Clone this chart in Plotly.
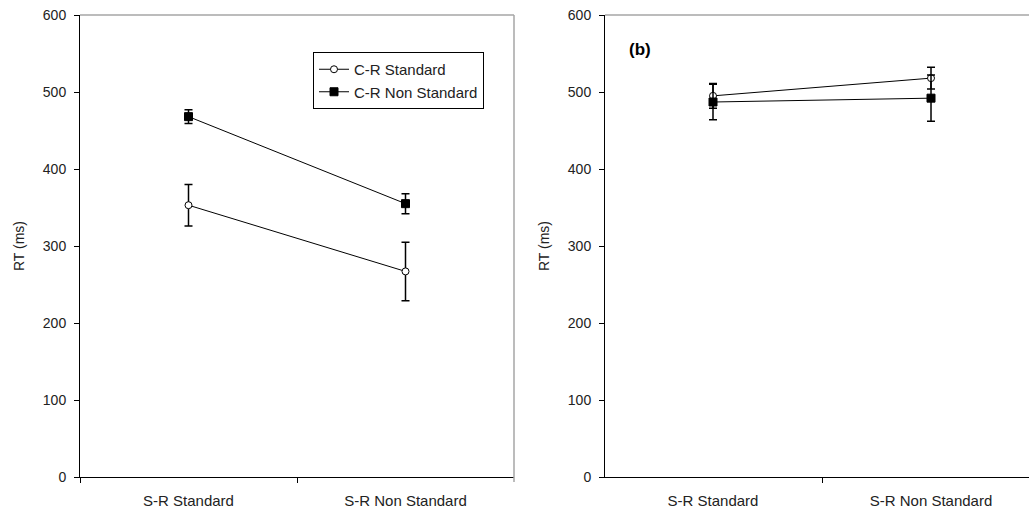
import plotly.graph_objects as go

# Response-time means (ms) and standard errors for each condition
categories = ["S-R Standard", "S-R Non Standard"]

# Panel (a)
a_std_mean = [353, 267]
a_std_err = [27, 38]
a_non_mean = [468, 355]
a_non_err = [9, 13]

# Panel (b)
b_std_mean = [495, 518]
b_std_err = [16, 14]
b_non_mean = [487, 492]
b_non_err = [23, 30]

y_ticks = [0, 100, 200, 300, 400, 500, 600]

FONT = "Liberation Sans, Arial, sans-serif"
INK = "#000000"
TXT = "#222222"

W, H = 1029, 513
left_dom = [80 / W, 514 / W]
right_dom = [605 / W, 1.0]
y_dom = [(H - 477) / H, (H - 15) / H]

fig = go.Figure()


def add_series(name, means, errs, xa, ya, symbol, fill, show):
    fig.add_trace(go.Scatter(
        x=categories, y=means, name=name, xaxis=xa, yaxis=ya,
        mode="lines+markers", showlegend=show, legendgroup=name,
        line=dict(color=INK, width=1),
        marker=dict(symbol=symbol, size=7 if symbol == "circle" else 8,
                    color=fill, line=dict(color=INK, width=1)),
        error_y=dict(type="data", array=errs, visible=True,
                     color=INK, thickness=1.5, width=4),
    ))


add_series("C-R Standard", a_std_mean, a_std_err, "x", "y", "circle", "white", True)
add_series("C-R Non Standard", a_non_mean, a_non_err, "x", "y", "square", INK, True)
add_series("C-R Standard", b_std_mean, b_std_err, "x2", "y2", "circle", "white", False)
add_series("C-R Non Standard", b_non_mean, b_non_err, "x2", "y2", "square", INK, False)

xcommon = dict(
    type="category", categoryorder="array", categoryarray=categories,
    showline=True, linecolor=INK, linewidth=1,
    ticks="outside", tickson="boundaries", ticklen=5, tickcolor=INK,
    showgrid=False, zeroline=False, automargin=False,
    tickfont=dict(family=FONT, size=15, color=TXT),
    ticklabelstandoff=10,
)
ycommon = dict(
    range=[0, 600], tickvals=y_ticks,
    showline=True, linecolor=INK, linewidth=1,
    ticks="outside", ticklen=5, tickcolor=INK,
    showgrid=False, zeroline=False, automargin=False,
    tickfont=dict(family=FONT, size=14, color=TXT),
    ticklabelstandoff=5,
    title=dict(text="RT (ms)", font=dict(family=FONT, size=14, color=TXT), standoff=14),
)

fig.update_layout(
    width=W, height=H,
    margin=dict(l=0, r=0, t=0, b=0, autoexpand=False),
    paper_bgcolor="white", plot_bgcolor="white",
    xaxis=dict(domain=left_dom, range=[-0.5, 1.5], anchor="y", **xcommon),
    yaxis=dict(domain=y_dom, anchor="x", **ycommon),
    xaxis2=dict(domain=right_dom, range=[-0.4954, 1.4495], anchor="y2", **xcommon),
    yaxis2=dict(domain=y_dom, anchor="x2", **ycommon),
    legend=dict(
        x=313 / W, y=(H - 52) / H, xanchor="left", yanchor="top",
        bordercolor=INK, borderwidth=1, bgcolor="white",
        font=dict(family=FONT, size=15, color=TXT),
        itemwidth=30, tracegroupgap=0,
    ),
    showlegend=True,
    annotations=[dict(
        text="<b>(b)</b>", xref="paper", yref="paper",
        x=627 / W, y=(H - 49) / H, xanchor="left", yanchor="middle",
        showarrow=False, font=dict(family=FONT, size=17, color=INK),
    )],
    shapes=[
        # light frame along the top and right of panel (a), top of panel (b)
        dict(type="line", xref="paper", yref="paper",
             x0=left_dom[0], x1=left_dom[1], y0=y_dom[1], y1=y_dom[1],
             line=dict(color="#a6a6a6", width=1.5)),
        dict(type="line", xref="paper", yref="paper",
             x0=left_dom[1], x1=left_dom[1], y0=y_dom[0] - 5 / H, y1=y_dom[1],
             line=dict(color="#a6a6a6", width=1.5)),
        dict(type="line", xref="paper", yref="paper",
             x0=right_dom[0], x1=right_dom[1], y0=y_dom[1], y1=y_dom[1],
             line=dict(color="#a6a6a6", width=1.5)),
    ],
)

fig.write_html("out.html")
